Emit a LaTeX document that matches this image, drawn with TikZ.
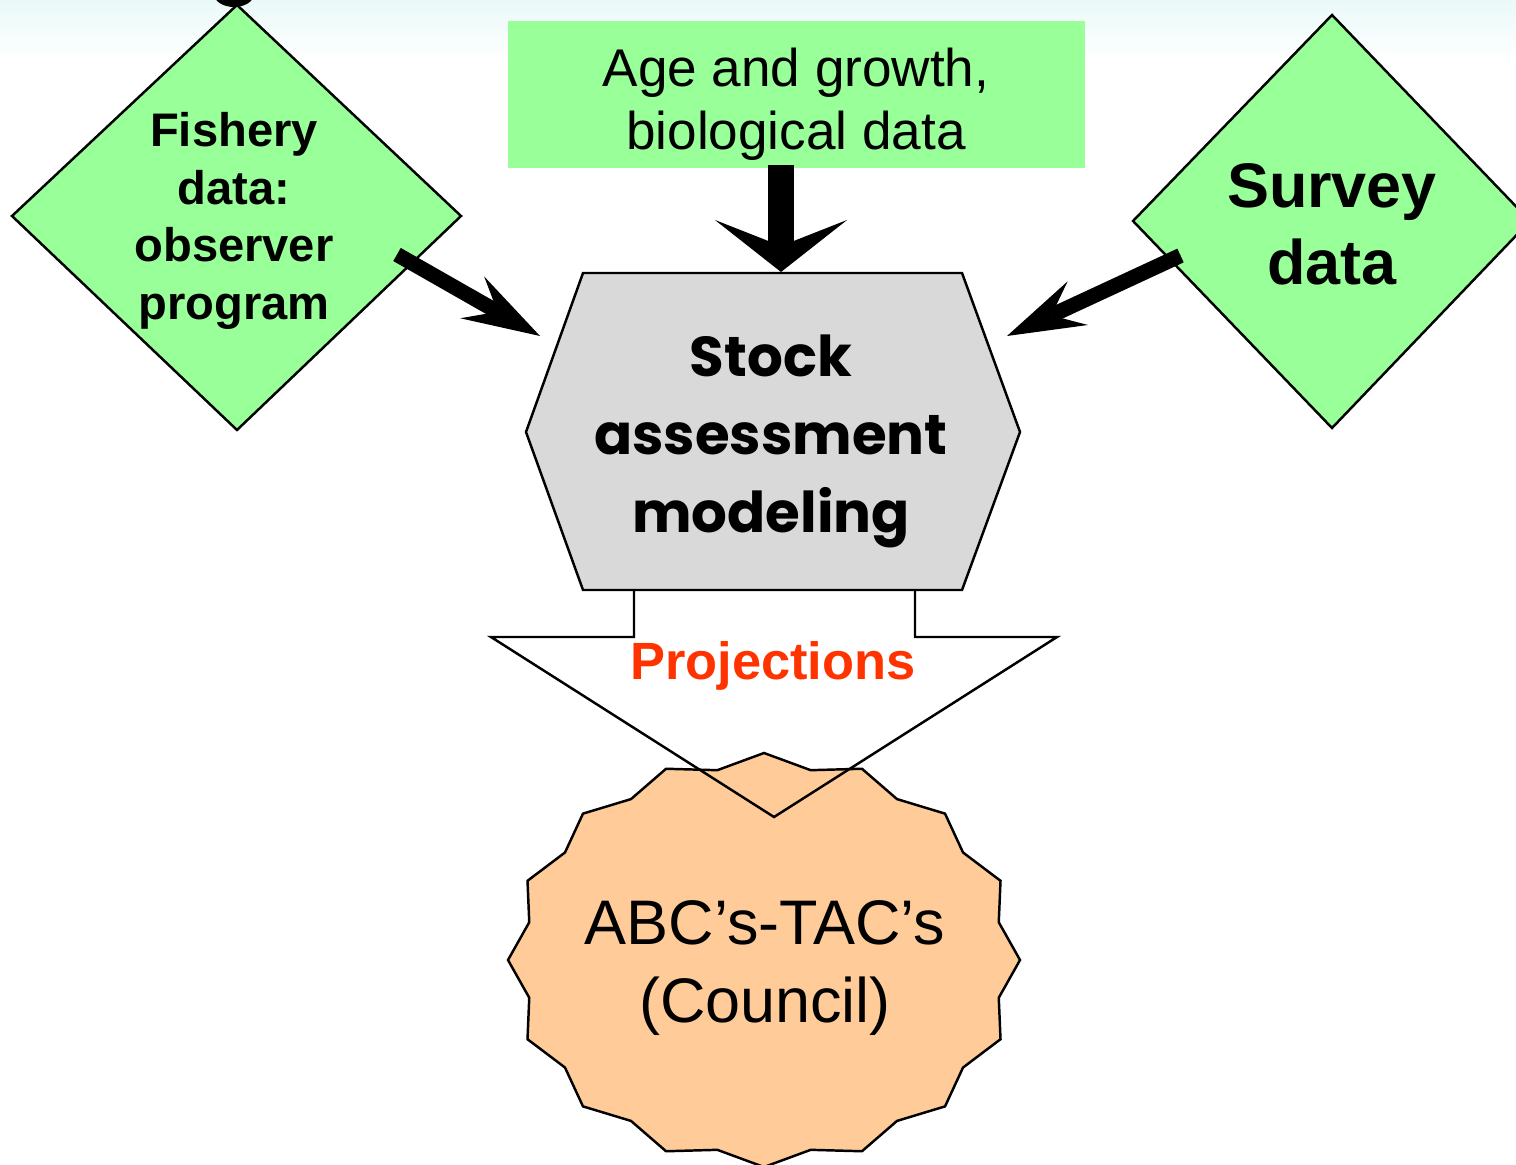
\documentclass[tikz,border=0pt]{standalone}
\usepackage{fontspec}
\setmainfont{Liberation Sans}
\newfontfamily\stockfont{Poppins}
\usetikzlibrary{arrows.meta}
\definecolor{dgreen}{RGB}{153,255,153}
\definecolor{hexgray}{RGB}{217,217,217}
\definecolor{peach}{RGB}{255,204,153}
\definecolor{projred}{RGB}{255,51,0}
\definecolor{skytop}{RGB}{234,249,248}
\begin{document}
\begin{tikzpicture}[x=0.01cm,y=-0.01cm,
  outline/.style={draw=black,line width=0.7pt,line join=miter},
  txt/.style={inner sep=0pt,align=center,text=black},
  sidearrow/.style={line width=4.3pt,-{Stealth[length=22.2pt,width=13.7pt,inset=8.3pt,line width=0pt]}},
  midarrow/.style={line width=7.4pt,-{Stealth[length=14.8pt,width=37.6pt,inset=7.4pt,line width=0pt]}}
]
\useasboundingbox (0,0) rectangle (1516,1164);
\fill[white] (0,0) rectangle (1516,1164);
\shade[top color=skytop,bottom color=white] (0,0) rectangle (1516,60);
% black blob at top
\fill[black] (234,-6) ellipse [x radius=0.2cm, y radius=0.13cm];
% green box
\fill[dgreen] (508,21) rectangle (1085,168);
% diamonds
\draw[outline,fill=dgreen] (237,5) -- (461,216) -- (237,430) -- (12,216) -- cycle;
\draw[outline,fill=dgreen] (1332,15) -- (1530,221) -- (1332,428) -- (1133,221) -- cycle;
% hexagon
\draw[outline,fill=hexgray] (583,273) -- (962,273) -- (1020,432) -- (962,590) -- (583,590) -- (526,432) -- cycle;
% star
\draw[outline,fill=peach] (764,753) \foreach \k in {1,...,31}{ -- ({764+256*ifthenelse(mod(\k,2)==0,1,0.935)*cos(90+11.25*\k)},{960-207*ifthenelse(mod(\k,2)==0,1,0.935)*sin(90+11.25*\k)}) } -- cycle;
% projections block arrow (outline only)
\draw[outline] (634,590) -- (634,637) -- (491,637) -- (774,817) -- (1057,637) -- (915,637) -- (915,590);
% connectors
\coordinate (fishS) at (397,254.5);
\coordinate (fishE) at (540,336);
\coordinate (survS) at (1180.5,255.5);
\coordinate (survE) at (1007,336);
\coordinate (ageS) at (781,165);
\coordinate (ageE) at (781,272);
\draw[sidearrow] (fishS) -- (fishE);
\draw[sidearrow] (survS) -- (survE);
\draw[midarrow] (ageS) -- (ageE);
% texts
\node[txt,font={\fontsize{15.1}{17.9}\selectfont}] (age) at (796,104) {Age and growth,\\biological data};
\node[txt,font={\bfseries\fontsize{13.4}{16.4}\selectfont}] (fishery) at (234,221) {Fishery\\data:\\observer\\program};
\node[txt,font={\bfseries\fontsize{17.9}{21.9}\selectfont}] (survey) at (1332,224) {Survey\\data};
\node[txt,font={\stockfont\bfseries\fontsize{16}{22.2}\selectfont}] (stock) at (771,441) {Stock\\assessment\\modeling};
\node[txt,anchor=base,text=projred,font={\bfseries\fontsize{14.9}{18}\selectfont}] (proj) at (773,679) {Projections};
\node[txt,font={\fontsize{17.9}{22.2}\selectfont}] (council) at (765,968) {ABC’s-TAC’s\\(Council)};
\end{tikzpicture}
\end{document}
